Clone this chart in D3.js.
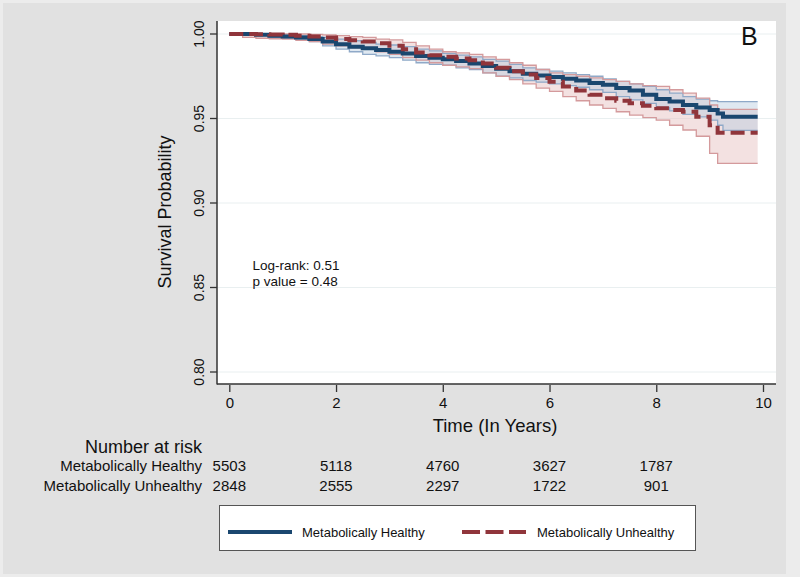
<!DOCTYPE html>
<html>
<head>
<meta charset="utf-8">
<script src="https://cdn.jsdelivr.net/npm/d3@7/dist/d3.min.js"></script>
<style>
  html, body { margin: 0; padding: 0; background: #ececec; }
  svg { display: block; font-family: "Liberation Sans", Arial, Helvetica, sans-serif; }
</style>
</head>
<body>
<div id="chart"></div>
<script>
// time grid (years) shared by all curves
var times = [0, 0.25, 0.5, 0.75, 1, 1.25, 1.5, 1.75, 2, 2.25, 2.5, 2.75, 3, 3.25, 3.5, 3.75,
             4, 4.25, 4.5, 4.75, 5, 5.25, 5.5, 5.75, 6, 6.25, 6.5, 6.75, 7, 7.25, 7.5, 7.75,
             8, 8.25, 8.5, 8.75, 9, 9.15, 9.25, 9.9];

// Metabolically Healthy: survival + 95% CI
var healthy = [1.000, 1.000, 0.9995, 0.999, 0.9985, 0.998, 0.997, 0.9955, 0.994, 0.9925, 0.9915, 0.9905, 0.9895, 0.9885, 0.987, 0.986,
               0.985, 0.984, 0.9825, 0.981, 0.9795, 0.978, 0.9765, 0.9755, 0.9745, 0.9735, 0.9725, 0.971, 0.970, 0.968, 0.9665, 0.964,
               0.9615, 0.960, 0.958, 0.9565, 0.955, 0.953, 0.951, 0.951];
var healthyUpper = [1.000, 1.000, 1.000, 0.9998, 0.9995, 0.999, 0.9985, 0.998, 0.997, 0.996, 0.995, 0.994, 0.9935, 0.9925, 0.991, 0.990,
                    0.9885, 0.9875, 0.9865, 0.985, 0.984, 0.982, 0.980, 0.979, 0.978, 0.977, 0.976, 0.975, 0.9735, 0.972, 0.9705, 0.969,
                    0.967, 0.965, 0.963, 0.9615, 0.9605, 0.960, 0.960, 0.960];
var healthyLower = [1.000, 0.9995, 0.999, 0.998, 0.9975, 0.9965, 0.9955, 0.993, 0.991, 0.9895, 0.988, 0.987, 0.986, 0.9845, 0.983, 0.982,
                    0.9815, 0.980, 0.979, 0.977, 0.975, 0.974, 0.9725, 0.9715, 0.9705, 0.9695, 0.9685, 0.967, 0.9655, 0.963, 0.961, 0.959,
                    0.9565, 0.9545, 0.9525, 0.951, 0.949, 0.946, 0.943, 0.943];

// Metabolically Unhealthy: survival + 95% CI
var unhealthy = [1.000, 1.000, 0.9998, 0.9997, 0.9995, 0.999, 0.9985, 0.998, 0.997, 0.9963, 0.9955, 0.9945, 0.993, 0.991, 0.989, 0.9875,
                 0.9865, 0.9855, 0.9845, 0.9825, 0.980, 0.978, 0.976, 0.974, 0.9718, 0.969, 0.9665, 0.964, 0.962, 0.9605, 0.959, 0.9575,
                 0.956, 0.955, 0.954, 0.951, 0.946, 0.9416, 0.9416, 0.9416];
var unhealthyUpper = [1.000, 1.000, 1.000, 1.000, 1.000, 1.000, 0.9998, 0.9995, 0.999, 0.9985, 0.998, 0.997, 0.9965, 0.995, 0.993, 0.991,
                      0.9895, 0.9888, 0.988, 0.9865, 0.985, 0.983, 0.9815, 0.979, 0.977, 0.976, 0.975, 0.974, 0.973, 0.972, 0.9705, 0.9695,
                      0.969, 0.967, 0.965, 0.962, 0.958, 0.9554, 0.9554, 0.9554];
var unhealthyLower = [1.000, 0.998, 0.9975, 0.9972, 0.997, 0.9962, 0.9955, 0.994, 0.993, 0.992, 0.991, 0.9895, 0.988, 0.986, 0.9845, 0.983,
                      0.9815, 0.9805, 0.9795, 0.977, 0.975, 0.973, 0.9705, 0.968, 0.966, 0.963, 0.9605, 0.958, 0.956, 0.954, 0.952, 0.9505,
                      0.949, 0.946, 0.9432, 0.9395, 0.9294, 0.9235, 0.9235, 0.9235];

var xTicks = [0, 2, 4, 6, 8, 10];
var yTicks = [0.80, 0.85, 0.90, 0.95, 1.00];
var groups = ["Metabolically Healthy", "Metabolically Unhealthy"];
var riskTimes = [0, 2, 4, 6, 8];
var riskHealthy = [5503, 5118, 4760, 3627, 1787];
var riskUnhealthy = [2848, 2555, 2297, 1722, 901];

var W = 800, H = 577;
var plot = {left: 217, right: 776, top: 21, bottom: 384};
var blue = "#1a476f", red = "#90353b";

var svg = d3.select("#chart").append("svg").attr("width", W).attr("height", H);

// background panels
svg.append("rect").attr("x", 0).attr("y", 0).attr("width", W).attr("height", H).attr("fill", "#ececec");
svg.append("rect").attr("x", 3).attr("y", 3).attr("width", 783).attr("height", 571).attr("fill", "#e1e1e1");
svg.append("rect")
    .attr("x", plot.left).attr("y", plot.top)
    .attr("width", plot.right - plot.left).attr("height", plot.bottom - plot.top)
    .attr("fill", "#fff");

var x = d3.scaleLinear().domain([0, 10]).range([229.3, 763]);
var y = d3.scaleLinear().domain([0.8, 1]).range([372, 34]);

// grid
svg.append("g").selectAll("line").data(yTicks).enter().append("line")
    .attr("x1", plot.left).attr("x2", plot.right)
    .attr("y1", function (d) { return y(d); })
    .attr("y2", function (d) { return y(d); })
    .attr("stroke", "#e9eff0").attr("stroke-width", 1);

function rows(vals) {
    return times.map(function (t, i) { return [t, vals[i]]; });
}
function band(lo, hi) {
    return times.map(function (t, i) { return [t, lo[i], hi[i]]; });
}

var area = d3.area().curve(d3.curveStepAfter)
    .x(function (d) { return x(d[0]); })
    .y0(function (d) { return y(d[1]); })
    .y1(function (d) { return y(d[2]); });
var line = d3.line().curve(d3.curveStepAfter)
    .x(function (d) { return x(d[0]); })
    .y(function (d) { return y(d[1]); });

// CI bands
svg.append("path").datum(band(unhealthyLower, unhealthyUpper)).attr("d", area)
    .attr("fill", "#e8c4c4").attr("fill-opacity", 0.5);
svg.append("path").datum(band(healthyLower, healthyUpper)).attr("d", area)
    .attr("fill", "#b9cbe0").attr("fill-opacity", 0.45);

[[healthyUpper, "#8fa9c8"], [healthyLower, "#8fa9c8"],
 [unhealthyUpper, "#d49a9c"], [unhealthyLower, "#d49a9c"]].forEach(function (s) {
    svg.append("path").datum(rows(s[0])).attr("d", line)
        .attr("fill", "none").attr("stroke", s[1]).attr("stroke-width", 1.3);
});

// survival curves
svg.append("path").datum(rows(healthy)).attr("d", line)
    .attr("fill", "none").attr("stroke", blue).attr("stroke-width", 4);
svg.append("path").datum(rows(unhealthy)).attr("d", line)
    .attr("fill", "none").attr("stroke", red).attr("stroke-width", 4)
    .attr("stroke-dasharray", "14,6");

// axes lines
svg.append("line").attr("x1", plot.left).attr("x2", plot.left)
    .attr("y1", plot.top).attr("y2", plot.bottom + 0.5)
    .attr("stroke", "#333").attr("stroke-width", 1.5);
svg.append("line").attr("x1", plot.left).attr("x2", plot.right)
    .attr("y1", plot.bottom).attr("y2", plot.bottom)
    .attr("stroke", "#333").attr("stroke-width", 1.5);

// x axis
var xAxis = svg.append("g").attr("transform", "translate(0," + (plot.bottom + 1) + ")")
    .call(d3.axisBottom(x).tickValues(xTicks).tickSize(7).tickPadding(5).tickFormat(d3.format("d")));
xAxis.select(".domain").remove();
xAxis.selectAll("line").attr("stroke", "#333").attr("stroke-width", 1.3);
xAxis.selectAll("text").attr("font-size", 15).attr("fill", "#111")
    .attr("font-family", "Liberation Sans, Arial, sans-serif");

// y axis
var yAxis = svg.append("g");
yAxis.selectAll("line").data(yTicks).enter().append("line")
    .attr("x1", plot.left - 7).attr("x2", plot.left)
    .attr("y1", function (d) { return y(d); })
    .attr("y2", function (d) { return y(d); })
    .attr("stroke", "#333").attr("stroke-width", 1.3);
yAxis.selectAll("text").data(yTicks).enter().append("text")
    .attr("transform", function (d) { return "translate(204," + y(d) + ") rotate(-90)"; })
    .attr("text-anchor", "middle").attr("font-size", 14).attr("fill", "#111")
    .text(d3.format(".2f"));

// axis titles
svg.append("text").attr("transform", "translate(171,212) rotate(-90)")
    .attr("text-anchor", "middle").attr("font-size", 18).attr("fill", "#111")
    .text("Survival Probability");
svg.append("text").attr("x", 495).attr("y", 432)
    .attr("text-anchor", "middle").attr("font-size", 18.5).attr("fill", "#111")
    .text("Time (In Years)");

// panel letter + test annotation
svg.append("text").attr("x", 741).attr("y", 45).attr("font-size", 25).attr("fill", "#111").text("B");
svg.append("text").attr("x", 252.5).attr("y", 270).attr("font-size", 13.5).attr("fill", "#111").text("Log-rank: 0.51");
svg.append("text").attr("x", 252.5).attr("y", 286).attr("font-size", 13.5).attr("fill", "#111").text("p value = 0.48");

// number at risk table
svg.append("text").attr("x", 202).attr("y", 453).attr("text-anchor", "end")
    .attr("font-size", 18).attr("fill", "#111").text("Number at risk");
[[groups[0], riskHealthy, 471], [groups[1], riskUnhealthy, 491]].forEach(function (r) {
    svg.append("text").attr("x", 202).attr("y", r[2]).attr("text-anchor", "end")
        .attr("font-size", 15).attr("fill", "#111").text(r[0]);
    svg.append("g").selectAll("text").data(r[1]).enter().append("text")
        .attr("x", function (d, i) { return x(riskTimes[i]); })
        .attr("y", r[2]).attr("text-anchor", "middle")
        .attr("font-size", 15).attr("fill", "#111")
        .text(function (d) { return d; });
});

// legend
var lg = svg.append("g");
lg.append("rect").attr("x", 219.5).attr("y", 505.5).attr("width", 476).attr("height", 45)
    .attr("fill", "#fff").attr("stroke", "#555").attr("stroke-width", 1);
lg.append("line").attr("x1", 228).attr("x2", 292).attr("y1", 532).attr("y2", 532)
    .attr("stroke", blue).attr("stroke-width", 4);
lg.append("text").attr("x", 302).attr("y", 537).attr("font-size", 13).attr("fill", "#111").text(groups[0]);
lg.append("line").attr("x1", 462).attr("x2", 526).attr("y1", 532).attr("y2", 532)
    .attr("stroke", red).attr("stroke-width", 4).attr("stroke-dasharray", "18,5.5");
lg.append("text").attr("x", 537).attr("y", 537).attr("font-size", 13).attr("fill", "#111").text(groups[1]);
</script>
</body>
</html>
